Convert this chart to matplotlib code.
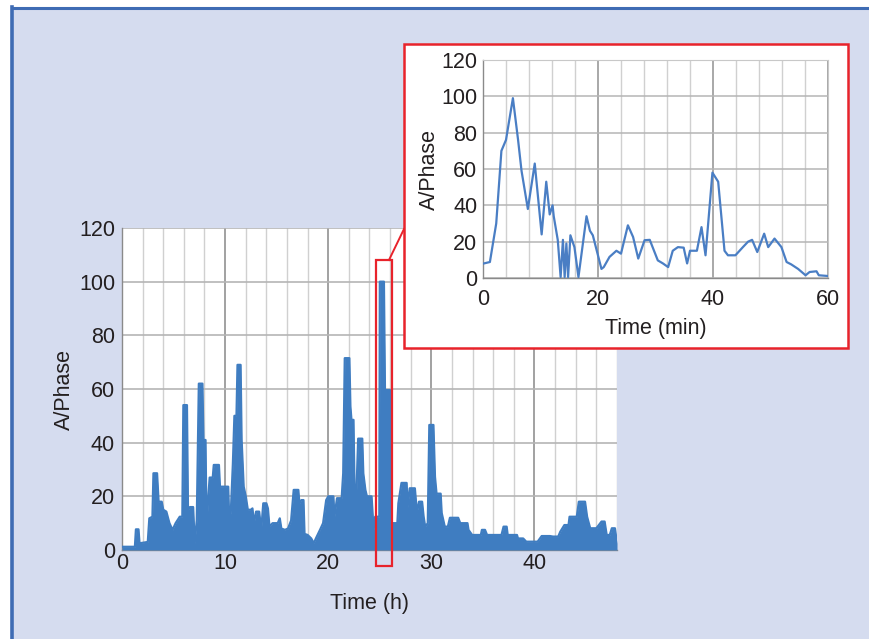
import matplotlib
matplotlib.use("Agg")
import matplotlib.pyplot as plt
from matplotlib.patches import Rectangle
from matplotlib.lines import Line2D
from matplotlib.ticker import MultipleLocator

# ---------------- data ----------------
# main chart: upper envelope of the dense signal (hours, A/Phase)
hours = [0.0, 1.25, 1.35, 1.6, 1.7, 2.5, 2.65, 2.95, 3.05, 3.4, 3.55, 3.85, 4.0, 4.3,
         4.6, 4.9, 5.2, 5.6, 5.85, 5.95, 6.3, 6.4, 6.6, 6.9, 7.05, 7.25, 7.45, 7.8,
         7.9, 8.1, 8.2, 8.35, 8.5, 8.8, 8.9, 9.4, 9.5, 10.3, 10.4, 10.55, 10.75, 10.9,
         11.1, 11.2, 11.5, 11.6, 11.8, 12.0, 12.2, 12.5, 12.65, 12.8, 13.0, 13.3, 13.5,
         13.7, 14.0, 14.15, 14.3, 14.6, 15.1, 15.3, 15.45, 15.8, 16.1, 16.4, 16.65, 17.1,
         17.2, 17.4, 17.6, 17.7, 18.0, 18.35, 18.6, 18.8, 19.2, 19.5, 19.8, 20.0, 20.5,
         20.6, 20.85, 21.3, 21.45, 21.6, 22.05, 22.15, 22.25, 22.45, 22.55, 22.7, 22.9,
         23.3, 23.4, 23.6, 23.75, 24.2, 24.4, 24.55, 24.95, 25.0, 25.4, 25.5, 26.0, 26.1,
         26.7, 26.8, 27.1, 27.6, 27.7, 27.9, 28.4, 28.6, 28.8, 29.1, 29.25, 29.4, 29.65,
         29.8, 30.2, 30.35, 30.5, 30.9, 31.0, 31.3, 31.6, 31.8, 32.6, 32.8, 33.5, 33.6,
         33.95, 34.8, 34.9, 35.2, 35.4, 36.8, 37.0, 37.3, 37.4, 38.3, 38.4, 38.9, 39.2,
         40.3, 40.7, 41.5, 41.8, 42.3, 42.5, 42.9, 43.3, 43.4, 44.1, 44.3, 44.9, 45.1,
         45.4, 46.0, 46.5, 46.8, 47.0, 47.3, 47.5, 47.8, 48.0]
phase_h = [1.2, 1.2, 7.7, 7.7, 2.5, 3.0, 11.8, 12.4, 28.6, 28.6, 18.0, 18.0, 15.0, 14.3,
           10.0, 7.5, 10.0, 12.4, 12.4, 54.0, 54.0, 15.0, 16.0, 16.0, 2.5, 11.0, 62.0, 62.0,
           41.0, 41.0, 7.5, 18.6, 27.0, 27.0, 31.7, 31.7, 23.6, 23.6, 11.0, 14.0, 32.0, 50.0,
           50.0, 69.0, 69.0, 41.0, 23.6, 20.0, 15.0, 15.0, 15.5, 10.0, 14.3, 14.3, 7.5,
           17.4, 17.4, 15.5, 8.7, 10.0, 10.0, 11.8, 8.0, 7.5, 8.0, 11.0, 22.4, 22.4,
           17.4, 18.6, 18.6, 6.0, 5.6, 4.3, 2.5, 4.3, 7.5, 10.0, 18.6, 20.0, 20.0,
           12.4, 19.3, 19.3, 28.6, 71.5, 71.5, 53.5, 48.5, 48.5, 22.4, 17.4, 41.5,
           41.5, 28.6, 22.4, 20.0, 20.0, 7.5, 12.4, 12.4, 100.0, 100.0, 59.6, 59.6, 10.0,
           10.0, 17.4, 25.0, 25.0, 16.0, 23.0, 23.0, 13.8, 18.0, 18.0, 12.4, 8.7, 10.0,
           46.6, 46.6, 27.3, 21.0, 21.0, 13.8, 8.7, 8.7, 12.0, 12.0, 10.0, 10.0, 7.5,
           5.6, 5.6, 7.5, 7.5, 5.6, 5.6, 8.7, 8.7, 5.6, 5.6, 4.3, 4.3, 3.1,
           3.1, 5.2, 5.2, 5.0, 5.0, 6.8, 9.3, 9.3, 12.4, 12.4, 18.0, 18.0, 12.4,
           8.1, 8.1, 10.6, 10.6, 5.6, 5.6, 8.1, 8.1, 2.5]

# inset: one hour detail (minutes, A/Phase)
minutes = [0, 1.2, 2.3, 3.2, 4.0, 5.2, 6.1, 6.7, 7.8, 9.0, 10.2, 11.0, 11.6, 12.1, 12.3,
           13.0, 13.5, 13.9, 14.2, 14.5, 14.8, 15.2, 15.9, 16.6, 18.0, 18.6, 19.1, 20.6,
           21.0, 22.0, 23.2, 24.0, 25.2, 26.1, 27.0, 28.1, 29.0, 30.4, 31.3, 32.2, 33.0,
           33.9, 34.9, 35.5, 36.0, 37.2, 38.0, 38.7, 39.9, 40.9, 42.0, 42.6, 43.9, 45.2,
           46.1, 46.8, 47.7, 48.9, 49.6, 50.7, 51.9, 52.8, 53.6, 54.8, 56.1, 56.8, 58.0,
           58.4, 60.0]
phase_min = [7.9, 8.8, 30, 70, 76, 99, 76, 59, 38, 63, 24, 53, 35, 40, 34,
             21, 0.5, 21, 0.5, 19, 0.5, 23.5, 17, 0.5, 34, 26, 23.5, 5,
             6, 11.6, 15, 13.4, 29, 22.6, 10.7, 20.8, 21, 9.7, 8, 6, 15,
             17, 16.7, 8, 15, 15, 28, 12.5, 58, 53, 15, 12.5, 12.5, 17,
             20, 21, 14.3, 24.4, 17, 21.7, 17, 8.8, 7.5, 5, 1.5, 3.3, 3.7,
             1.5, 1.1]

main_yticks = [0, 20, 40, 60, 80, 100, 120]
main_xticks = [0, 10, 20, 30, 40]
inset_xticks = [0, 20, 40, 60]

# ---------------- style ----------------
BLUE = "#3f7dc1"
RED = "#e8232b"
BG = "#d5dcef"
FRAME = "#3f6cb4"
GRID_MINOR = "#d0d0d0"
GRID_MAJOR = "#9a9a9a"
TXT = "#231f20"
FS = 15.5
plt.rcParams["font.family"] = ["Liberation Sans", "DejaVu Sans"]

W, H = 870, 639
fig = plt.figure(figsize=(W / 100, H / 100), dpi=100)
fig.patch.set_facecolor("white")

def fx(px):
    return px / W

def fy(py):
    return 1 - py / H

# lavender background panel with blue frame on top/left
bg = Rectangle((fx(12), 0), 1 - fx(12), fy(7), transform=fig.transFigure,
               facecolor=BG, edgecolor="none", zorder=-10)
fig.add_artist(bg)
fig.add_artist(Line2D([fx(12), 1], [fy(7.5), fy(7.5)], transform=fig.transFigure,
                      color=FRAME, lw=2.2, zorder=-9))
fig.add_artist(Line2D([fx(12.5), fx(12.5)], [0, fy(7)], transform=fig.transFigure,
                      color=FRAME, lw=2.6, zorder=-9))

# ---------------- main axes ----------------
ax = fig.add_axes([fx(122), fy(550), fx(617) - fx(122), fy(228) - fy(550)])
ax.set_zorder(1)
ax.set_facecolor("white")
ax.fill_between(hours, 0, phase_h, color=BLUE, lw=0, zorder=3)
ax.plot(hours, phase_h, color=BLUE, lw=1.6, zorder=3)
ax.set_xlim(0, 48)
ax.set_ylim(0, 120)
ax.set_xticks(main_xticks)
ax.set_yticks(main_yticks)
ax.xaxis.set_minor_locator(MultipleLocator(2))
ax.grid(which="minor", axis="x", color=GRID_MINOR, lw=1.0, zorder=0)
ax.grid(which="major", axis="x", color=GRID_MAJOR, lw=1.3, zorder=0)
ax.grid(which="major", axis="y", color="#b5b5b5", lw=1.2, zorder=0)
ax.set_axisbelow(True)
ax.tick_params(which="both", length=0, labelsize=FS, colors=TXT, pad=5)
ax.tick_params(axis="x", pad=2)
for s in ["top", "right"]:
    ax.spines[s].set_visible(False)
for s in ["left", "bottom"]:
    ax.spines[s].set_color("#8a8a8a")
    ax.spines[s].set_linewidth(1.0)
ax.set_xlabel("Time (h)", fontsize=FS, color=TXT, labelpad=14)
ax.set_ylabel("A/Phase", fontsize=FS, color=TXT, labelpad=3)

# red zoom box in main axes
ax.add_patch(Rectangle((24.65, -6), 1.55, 114, fill=False, edgecolor=RED, lw=1.6,
                       clip_on=False, zorder=5))

# connector line from zoom box to inset frame
fig.add_artist(Line2D([fx(389), fx(404)], [fy(260), fy(229)], transform=fig.transFigure,
                      color=RED, lw=1.4, zorder=2))

# inset white frame with red border
fig.add_artist(Rectangle((fx(404), fy(348)), fx(848) - fx(404), fy(44) - fy(348),
                         transform=fig.transFigure, facecolor="white", edgecolor=RED,
                         lw=1.8, zorder=2))

# ---------------- inset axes ----------------
ax2 = fig.add_axes([fx(483), fy(278), fx(828) - fx(483), fy(60) - fy(278)])
ax2.set_zorder(3)
ax2.set_facecolor("white")
ax2.plot(minutes, phase_min, color="#4a7ec4", lw=1.6, zorder=3)
ax2.set_xlim(0, 60)
ax2.set_ylim(0, 120)
ax2.set_xticks(inset_xticks)
ax2.set_yticks(main_yticks)
ax2.xaxis.set_minor_locator(MultipleLocator(4))
ax2.grid(which="minor", axis="x", color=GRID_MINOR, lw=1.0, zorder=0)
ax2.grid(which="major", axis="x", color=GRID_MAJOR, lw=1.2, zorder=0)
ax2.grid(which="major", axis="y", color="#b5b5b5", lw=1.1, zorder=0)
ax2.set_axisbelow(True)
ax2.tick_params(which="both", length=0, labelsize=FS, colors=TXT, pad=4)
ax2.tick_params(axis="x", pad=8)
for s in ["top", "right"]:
    ax2.spines[s].set_color("#c8c8c8")
for s in ["left", "bottom"]:
    ax2.spines[s].set_color("#8a8a8a")
    ax2.spines[s].set_linewidth(1.0)
ax2.set_xlabel("Time (min)", fontsize=FS, color=TXT, labelpad=6)
ax2.set_ylabel("A/Phase", fontsize=FS, color=TXT, labelpad=1)

fig.savefig("out.png", dpi=100, facecolor=fig.get_facecolor())
